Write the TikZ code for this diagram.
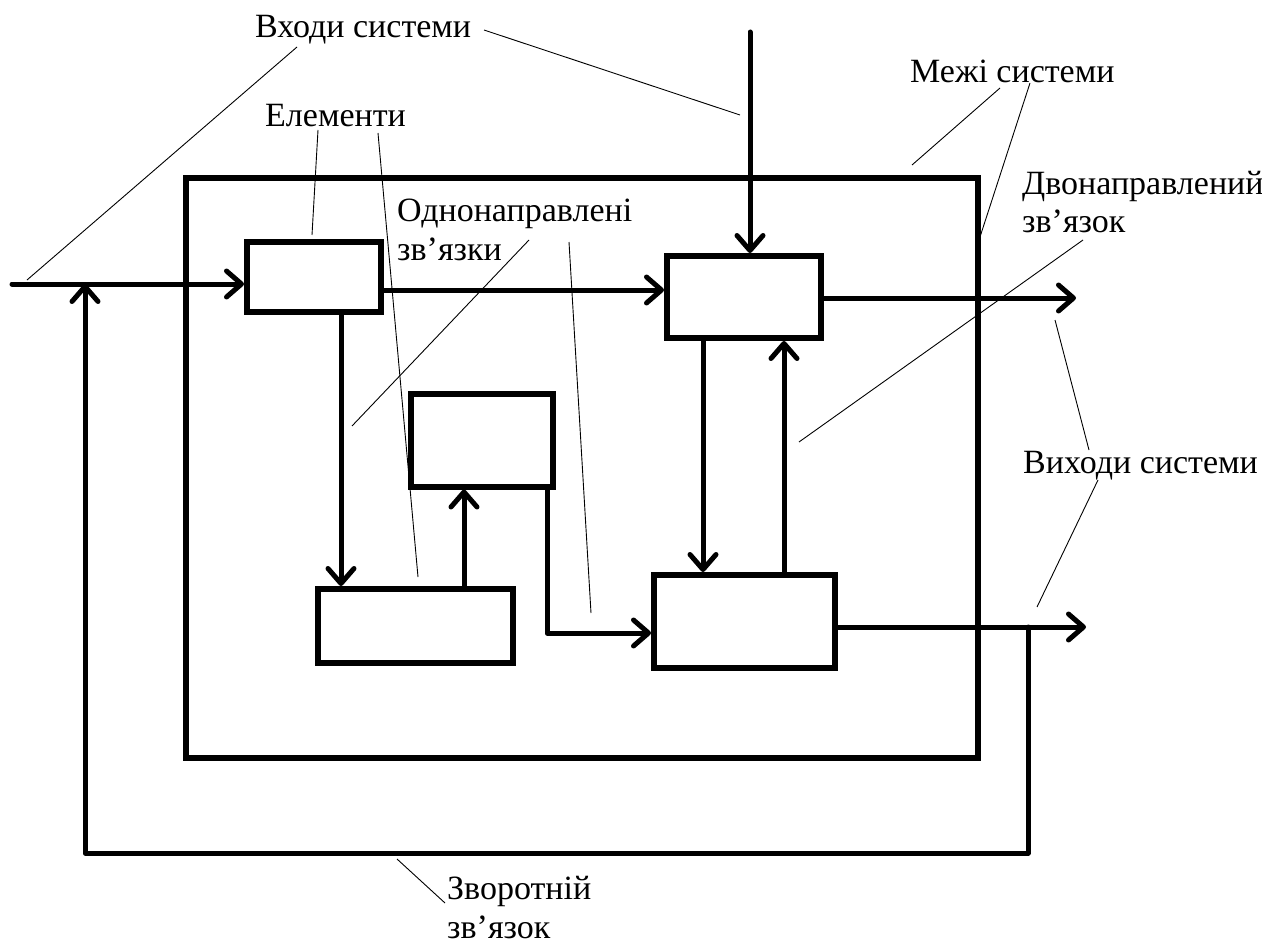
\documentclass[tikz,border=0pt]{standalone}
\usepackage{fontspec}
\setmainfont{Liberation Serif}
\usetikzlibrary{arrows.meta}
\begin{document}
\begin{tikzpicture}[x=1pt,y=-1pt,
  element/.style={draw, line width=6pt, rectangle, inner sep=0pt},
  boundary/.style={draw, line width=6pt, rectangle, inner sep=0pt},
  flow/.style={line width=5pt, line cap=round, line join=round, -{Straight Barb[length=15pt,width=26pt,round]}},
  leader/.style={line width=0.9pt},
  lbl/.style={font=\fontsize{34}{39}\selectfont, inner sep=0pt, anchor=base west, align=left}]

\useasboundingbox (0,0) rectangle (1262,947);

% system boundary
\node[boundary, minimum width=792pt, minimum height=580pt] (sys) at (582,468) {};

% elements
\node[element, minimum width=134pt, minimum height=70pt] (A) at (314,277) {};
\node[element, minimum width=154pt, minimum height=82pt] (B) at (744,297) {};
\node[element, minimum width=142pt, minimum height=93pt] (C) at (482,440) {};
\node[element, minimum width=195pt, minimum height=74pt] (D) at (415.5,626) {};
\node[element, minimum width=181pt, minimum height=93pt] (E) at (744.5,621.5) {};

% free ends of inputs / outputs
\coordinate (inL) at (12,284);
\coordinate (inT) at (750,32);
\coordinate (outB) at (1076,298);
\coordinate (outE) at (1086,627);
\coordinate (fb) at (1028,627);
\coordinate (fbC) at (85,853);

% connectors
\draw[flow] (inL) -- (inL -| A.west);
\draw[flow] (inT) -- (inT |- B.north);
\draw[flow] (A.east |- 0,290) -- (B.west |- 0,290);
\draw[flow] (B.east |- outB) -- (outB);
\draw[flow] (A.south -| 341,0) -- (D.north -| 341,0);
\draw[flow] (D.north -| 464,0) -- (C.south -| 464,0);
\draw[flow] (C.south -| 547,0) |- (E.west |- 0,633);
\draw[flow] (B.south -| 703,0) -- (E.north -| 703,0);
\draw[flow] (E.north -| 784,0) -- (B.south -| 784,0);
\draw[flow] (E.east |- outE) -- (outE);
\draw[flow] (fb) |- (fbC) -- (fbC |- inL);

% labels (base anchor of two-line labels = last line's baseline)
\node[lbl] (tIn) at (255,38) {Входи системи};
\node[lbl] (tEl) at (265,127) {Елементи};
\node[lbl] (tUni) at (397,260) {Однонаправлені\\зв’язки};
\node[lbl] (tBound) at (910,83) {Межі системи};
\node[lbl] (tBi) at (1022,233) {Двонаправлений\\зв’язок};
\node[lbl] (tOut) at (1023,473) {Виходи системи};
\node[lbl] (tFb) at (447,938) {Зворотній\\зв’язок};

% leader line end points
\coordinate (l1a) at (297,47);   \coordinate (l1b) at (27,280);
\coordinate (l2a) at (484,30);   \coordinate (l2b) at (740,115);
\coordinate (l3a) at (318,130);  \coordinate (l3b) at (312,235);
\coordinate (l4a) at (378,133);  \coordinate (l4b) at (418,577);
\coordinate (l5a) at (529,240);  \coordinate (l5b) at (352,426);
\coordinate (l6a) at (569,242);  \coordinate (l6b) at (591,613);
\coordinate (l7a) at (1000,88);  \coordinate (l7b) at (912,165);
\coordinate (l8a) at (1030,83);  \coordinate (l8b) at (979,240);
\coordinate (l9a) at (1083,240); \coordinate (l9b) at (799,442);
\coordinate (l10a) at (1089,450); \coordinate (l10b) at (1055,320);
\coordinate (l11a) at (1098,480); \coordinate (l11b) at (1037,607);
\coordinate (l12a) at (445,903); \coordinate (l12b) at (397,859);

% leader lines
\foreach \i in {1,...,12} \draw[leader] (l\i a) -- (l\i b);
\end{tikzpicture}
\end{document}
